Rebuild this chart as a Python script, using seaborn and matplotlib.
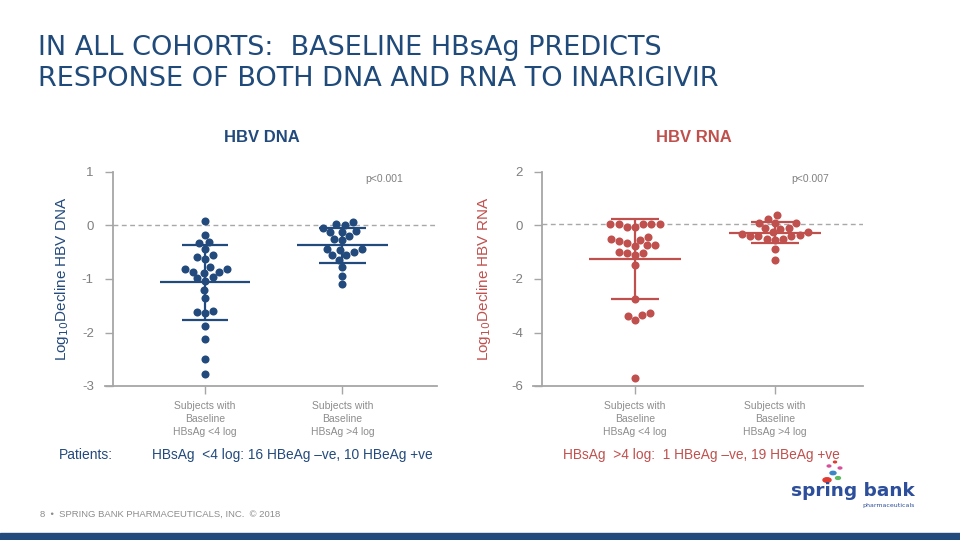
import numpy as np
import pandas as pd
import matplotlib
matplotlib.use("Agg")
import matplotlib.pyplot as plt
import seaborn as sns

# ---------------- data ----------------
groups = ["Subjects with\nBaseline\nHBsAg <4 log", "Subjects with\nBaseline\nHBsAg >4 log"]

dna_low = [0.09, -0.17, -0.30, -0.33, -0.43, -0.56, -0.63, -0.59, -0.82, -0.86,
           -0.77, -0.88, -0.86, -0.81, -0.97, -1.03, -0.99, -1.21, -1.36, -1.62,
           -1.64, -1.59, -1.87, -2.13, -2.50, -2.77]
dna_high = [-0.05, 0.06, 0.01, 0.02, -0.13, -0.19, -0.26, -0.13, -0.11, -0.28,
            -0.44, -0.50, -0.46, -0.43, -0.56, -0.64, -0.55, -0.78, -0.94, -1.09]

rna_low = [0.07, 0.07, -0.04, -0.04, 0.07, 0.07, 0.07, -0.50, -0.59, -0.74,
           -0.78, -0.74, -0.66, -0.54, -0.44, -1.01, -1.10, -1.01, -0.98, -1.48,
           -2.76, -3.28, -3.39, -3.54, -3.35, -5.69]
rna_high = [0.25, 0.10, -0.08, 0.10, 0.10, 0.39, -0.10, -0.25, -0.31, -0.39,
            -0.41, -0.49, -0.54, -0.49, -0.41, -0.35, -0.25, -0.13, -0.86, -1.29]

dna_ticks = [1, 0, -1, -2, -3]
rna_ticks = [2, 0, -2, -4, -6]
p_dna = "p<0.001"
p_rna = "p<0.007"

BLUE = "#234A7C"
RED = "#C0504D"
AXGRAY = "#A6A6A6"

sns.set_theme(style="white")
plt.rcParams["font.family"] = ["Liberation Sans", "DejaVu Sans"]

fig = plt.figure(figsize=(9.6, 5.4), dpi=100)


def make_df(a, b):
    return pd.DataFrame({"group": [groups[0]] * len(a) + [groups[1]] * len(b),
                         "value": list(a) + list(b)})


def panel(rect, df, color, ylim, ticks, xlim, spine_x, refy, ylabel, ptxt):
    ax = fig.add_axes(rect)
    sns.swarmplot(data=df, x="group", y="value", order=groups, ax=ax,
                  color=color, size=5.8, linewidth=0, zorder=3)
    # mean and SD
    for i, g in enumerate(groups):
        v = df.loc[df.group == g, "value"].to_numpy()
        m, s = v.mean(), v.std(ddof=1)
        ax.hlines(m, i - 0.33, i + 0.33, color=color, lw=1.6, zorder=4)
        ax.vlines(i, m - s, m + s, color=color, lw=1.6, zorder=4)
        ax.hlines([m - s, m + s], i - 0.17, i + 0.17, color=color, lw=1.6, zorder=4)
    ax.set_xlim(*xlim)
    ax.set_ylim(*ylim)
    ax.plot([spine_x, xlim[1]], [refy, refy], ls=(0, (3.5, 2.5)), color="#A8A8A8",
            lw=1.0, zorder=1)
    ax.set_yticks(ticks)
    ax.set_yticklabels([str(t) for t in ticks])
    ax.spines["top"].set_visible(False)
    ax.spines["right"].set_visible(False)
    ax.spines["left"].set_position(("data", spine_x))
    for sp in ("left", "bottom"):
        ax.spines[sp].set_color(AXGRAY)
        ax.spines[sp].set_linewidth(1.3)
    ax.tick_params(axis="y", colors=AXGRAY, labelcolor="#7F7F7F", labelsize=9.5,
                   length=6, width=1.0, direction="out", left=True, pad=8)
    ax.tick_params(axis="x", colors=AXGRAY, labelcolor="#8C8C8C", labelsize=7.5,
                   length=6, width=1.0, direction="out", bottom=True, pad=5)
    for lab in ax.get_xticklabels():
        lab.set_linespacing(1.35)
    ax.set_xlabel("")
    ax.set_ylabel(ylabel, color=color, fontsize=11)
    ax.text(0.84, 0.965, ptxt, transform=ax.transAxes, ha="center", va="center",
            fontsize=7.5, color="#808080")
    ax.set_facecolor("none")
    return ax


axL = panel([105 / 960, 1 - 386 / 540, 332 / 960, 214 / 540], make_df(dna_low, dna_high),
            BLUE, (-3, 1), dna_ticks, (-0.73, 1.69), -0.67, 0.0,
            r"Log$_{10}$Decline HBV DNA", p_dna)
axR = panel([533 / 960, 1 - 386 / 540, 330 / 960, 214 / 540], make_df(rna_low, rna_high),
            RED, (-6, 2), rna_ticks, (-0.73, 1.63), -0.664, 0.05,
            r"Log$_{10}$Decline HBV RNA", p_rna)
axL.yaxis.set_label_coords(-0.102, 0.5)
axR.yaxis.set_label_coords(-0.121, 0.5)

# ---------------- texts ----------------
def ftext(x, y, s, **kw):
    fig.text(x / 960, 1 - y / 540, s, **kw)

title1 = "IN ALL COHORTS:  BASELINE HBsAg PREDICTS"
title2 = "RESPONSE OF BOTH DNA AND RNA TO INARIGIVIR"
ftext(38, 48, title1, fontsize=19.5, color="#1F4A7A", va="center", ha="left",
      family=["DejaVu Sans"])
ftext(38, 79, title2, fontsize=19.5, color="#1F4A7A", va="center", ha="left",
      family=["DejaVu Sans"])

ftext(262, 137, "HBV DNA", fontsize=12, fontweight="bold", color=BLUE, ha="center", va="center")
ftext(694, 137, "HBV RNA", fontsize=12, fontweight="bold", color=RED, ha="center", va="center")

ftext(59, 455, "Patients:", fontsize=10, color=BLUE, ha="left", va="center")
ftext(152, 455, "HBsAg  <4 log: 16 HBeAg \u2013ve, 10 HBeAg +ve", fontsize=9.9, color=BLUE,
      ha="left", va="center")
ftext(563, 455, "HBsAg  >4 log:  1 HBeAg \u2013ve, 19 HBeAg +ve", fontsize=9.9, color=RED,
      ha="left", va="center")

ftext(40, 514, "8  \u2022  SPRING BANK PHARMACEUTICALS, INC.  \u00a9 2018", fontsize=6.8,
      color="#8C8C8C", ha="left", va="center")

# logo
ftext(853, 491, "spring bank", fontsize=13.3, fontweight="bold", color="#2C4E9B",
      ha="center", va="center", family=["DejaVu Sans"])
ftext(889, 506, "pharmaceuticals", fontsize=4.5, color="#2C4E9B", ha="center", va="center",
      family=["DejaVu Sans"])
for (cx, cy, r, c) in [(827, 480, 4, "#E03C31"), (833, 473, 3, "#3A86C8"),
                       (838, 478, 2.5, "#5DBB63"), (829, 466, 1.8, "#D94F9A"),
                       (840, 468, 1.8, "#D94F9A"), (835, 462, 1.5, "#E03C31")]:
    fig.patches.append(matplotlib.patches.Circle((cx / 960, 1 - cy / 540), r / 960,
                                                 transform=fig.transFigure, color=c))

# bottom band
fig.patches.append(matplotlib.patches.Rectangle((0, 0), 1, 7 / 540, transform=fig.transFigure,
                                                color="#234A7C"))

fig.savefig("out.png", dpi=100, facecolor="white")
